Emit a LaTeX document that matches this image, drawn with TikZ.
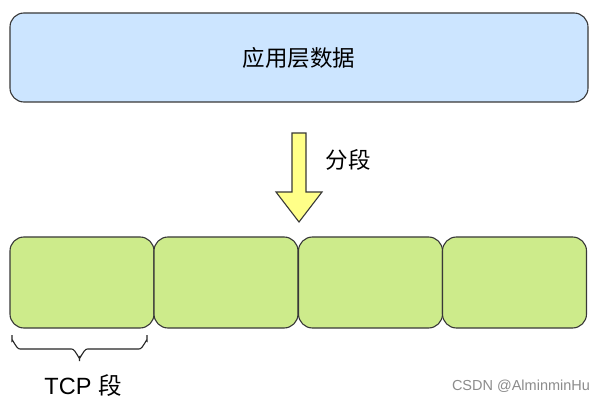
\documentclass[tikz,border=0pt]{standalone}
\usepackage{fontspec}
\setmainfont{Liberation Sans}
\newfontfamily\cjk{Noto Sans CJK SC}
\begin{document}
\begin{tikzpicture}[x=1pt,y=-1pt,
  edgecol/.style={draw=black!78, line width=1.1pt},
  appbox/.style={edgecol, fill=appblue, rounded corners=14pt, minimum width=578pt, minimum height=89pt, inner sep=0pt},
  segbox/.style={edgecol, fill=seggreen, rounded corners=14pt, minimum width=144pt, minimum height=91pt, inner sep=0pt},
  arrowshape/.style={edgecol, fill=arrowyellow, line join=miter},
  bigtext/.style={font=\fontsize{22.5}{26}\selectfont\cjk, inner sep=0pt},
  marktext/.style={font=\fontsize{14.5}{17}\selectfont, text=black!45, inner sep=0pt}
]
\definecolor{appblue}{HTML}{CCE5FF}
\definecolor{seggreen}{HTML}{CDEB8B}
\definecolor{arrowyellow}{HTML}{FFFF88}
\useasboundingbox (0,0) rectangle (611,401);
\fill[white] (0,0) rectangle (611,401);

\node[appbox] (app) at (299,57.5) {};
\node[bigtext] (apptext) at (app.center) {应用层数据};

\draw[arrowshape] (292,133) -- (306,133) -- (306,192) -- (322,192) -- (299,222) -- (276,192) -- (292,192) -- cycle;
\node[bigtext] (splitlabel) at (348,160) {分段};

\node[segbox] (seg1) at (82,282.5) {};
\node[segbox] (seg2) at (226,282.5) {};
\node[segbox] (seg3) at (370.5,282.5) {};
\node[segbox] (seg4) at (514.5,282.5) {};

\coordinate (bl) at (12,335);
\coordinate (br) at (147,335);
\coordinate (btip) at (79.5,361);
\draw[line width=1.1pt, black!85]
  (bl) -- (12,341) to[out=90,in=180] ++(8,8) -- (71.5,349) to[out=0,in=-90] (79.5,357) -- (btip)
  (br) -- (147,341) to[out=90,in=0] ++(-8,8) -- (87.5,349) to[out=180,in=-90] (79.5,357);

\node[font=\fontsize{23.5}{27}\selectfont, inner sep=0pt] (tcplabel) at (83,386) {TCP {\cjk 段}};
\node[marktext] (mark) at (521,386) {CSDN @AlminminHu};
\end{tikzpicture}
\end{document}
